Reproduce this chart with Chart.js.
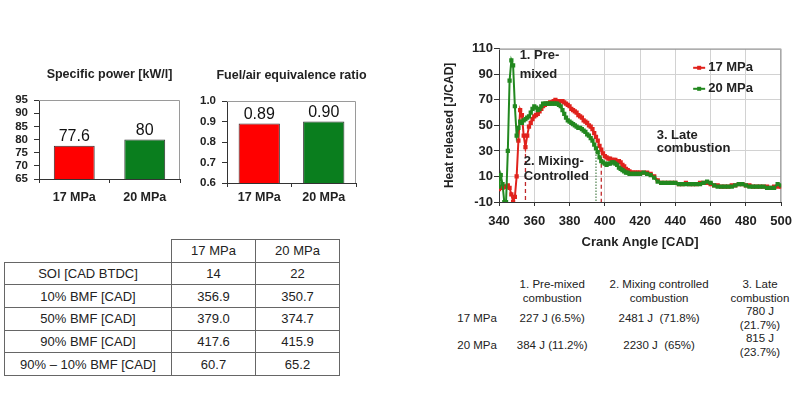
<!DOCTYPE html>
<html>
<head>
<meta charset="utf-8">
<script src="https://cdn.jsdelivr.net/npm/chart.js@4.4.1/dist/chart.umd.min.js"></script>
<style>
  body { margin: 0; width: 800px; height: 393px; overflow: hidden; background: #fff;
         font-family: "Liberation Sans", Arial, sans-serif; color: #222; position: relative; }
  canvas { position: absolute; }
  #bmfTable { position: absolute; left: 4px; top: 239px; border-collapse: collapse;
              table-layout: fixed; width: 335px; font-size: 13px; }
  #bmfTable td { border: 1px solid #666; text-align: center; height: 21.7px; padding: 0; }
  #bmfTable td.blank { border-top: none; border-left: none; }
  #energyTable { position: absolute; left: 448px; top: 278px; border-collapse: collapse;
                 table-layout: fixed; font-size: 11.5px; line-height: 13.5px; }
  #energyTable td { text-align: center; padding: 0; white-space: pre; vertical-align: middle; }
</style>
</head>
<body>
<canvas id="powerChart" width="195" height="165" style="left:0;top:55px"></canvas>
<canvas id="ratioChart" width="200" height="165" style="left:190px;top:55px"></canvas>
<canvas id="heatChart" width="370" height="215" style="left:430px;top:40px"></canvas>
<table id="bmfTable"></table>
<table id="energyTable"></table>
<script>
const FONT = '"Liberation Sans", Arial, sans-serif';

// bar charts
const barCategories = ['17 MPa', '20 MPa'];
const specificPower = [77.6, 80];
const specificPowerText = ['77.6', '80'];
const equivRatio = [0.89, 0.90];
const equivRatioText = ['0.89', '0.90'];
const barColors = ['#ff0000', '#0a7e1e'];

// BMF table
const bmfRows = ['SOI [CAD BTDC]', '10% BMF [CAD]', '50% BMF [CAD]', '90% BMF [CAD]', '90%  \u2013 10% BMF [CAD]'];
const bmf17 = ['14', '356.9', '379.0', '417.6', '60.7'];
const bmf20 = ['22', '350.7', '374.7', '415.9', '65.2'];

// heat release curves
const crankAngle = [
  340, 341, 342, 343, 344, 345, 346, 347, 348, 349, 350, 351, 352, 353, 354, 355, 356, 357, 358, 359,
  360, 361, 362, 363, 364, 365, 366, 367, 368, 369, 370, 371, 372, 373, 374, 375, 376, 377, 378, 379,
  380, 381, 382, 383, 384, 385, 386, 387, 388, 389, 390, 391, 392, 393, 394, 395, 396, 397, 398, 399,
  400, 401, 402, 403, 404, 405, 406, 407, 408, 409, 410, 411, 412, 413, 414, 415, 416, 417, 418, 419,
  420, 422, 424, 426, 428, 430, 432, 434, 436, 438, 440, 442, 444, 446, 448, 450, 452, 454, 456, 458,
  460, 462, 464, 466, 468, 470, 472, 474, 476, 478, 480, 482, 484, 486, 488, 490, 492, 494, 496, 498, 500
];
const heat17 = [
  0, 1, 1, 2, 2, 3, 1, -4, -10, -6, 10, 38, 62, 58, 42, 33, 42, 49, 52, 55,
  57, 58, 59, 61, 63, 65, 66, 67, 67, 68, 68, 69, 70, 69, 69, 69, 69, 68, 67, 66,
  65, 63, 62, 61, 60, 58, 57, 56, 54, 53, 52, 50, 49, 47, 44, 41, 38, 34, 31, 28,
  26, 25, 24, 24, 23, 23, 23, 22, 22, 21, 19, 18, 16, 15, 14, 13, 13, 13, 13, 13,
  13, 13, 13, 12, 10, 7, 5, 5, 5, 5, 5, 4, 4, 5, 4, 4, 4, 5, 5, 5,
  4, 3, 3, 2, 2, 2, 3, 3, 4, 4, 3, 3, 2, 2, 2, 2, 2, 1, 2, 2, 2
];
const heat20 = [
  2, 11, 4, -10, -10, 30, 85, 101, 97, 65, 42, 48, 53, 52, 54, 55, 56, 57, 60, 63,
  65, 64, 62, 63, 65, 67, 67, 67, 67, 67, 67, 67, 67, 67, 66, 65, 62, 59, 56, 54,
  53, 52, 51, 50, 49, 48, 48, 47, 46, 45, 43, 42, 40, 38, 35, 32, 29, 25, 22, 21,
  20, 19, 20, 20, 21, 21, 20, 19, 17, 16, 15, 14, 13, 13, 12, 12, 12, 12, 12, 12,
  12, 13, 12, 11, 9, 6, 5, 5, 5, 5, 5, 4, 4, 4, 4, 4, 4, 4, 5, 6,
  5, 3, 2, 2, 2, 2, 2, 3, 4, 4, 3, 2, 2, 2, 2, 2, 1, 1, 1, 4, 3
];
// phase boundaries (dashed drop lines)
const mark17 = [355, 398];
const mark17Top = [33, 31];
const mark20 = [395];
const mark20Top = [32];
const seriesNames = ['17 MPa', '20 MPa'];
const phaseNotes = [['1. Pre-', 'mixed'], ['2. Mixing-', 'Controlled'], ['3. Late', 'combustion']];

// energy table
const energyHead = ['', '1. Pre-mixed\ncombustion', '2. Mixing controlled\ncombustion', '3. Late\ncombustion'];
const energy17 = ['17 MPa', '227 J (6.5%)', '2481 J  (71.8%)', '780 J\n(21.7%)'];
const energy20 = ['20 MPa', '384 J (11.2%)', '2230 J  (65%)', '815 J\n(23.7%)'];

const RED = '#e0221c';
const GREEN = '#22881f';

// top/right frame of the plot box
const frame = {
  id: 'frame',
  beforeDatasetsDraw(chart) {
    const { ctx, chartArea: a } = chart;
    ctx.save();
    ctx.strokeStyle = '#9a9a9a';
    ctx.lineWidth = 1;
    ctx.beginPath();
    ctx.moveTo(a.left, a.top + 0.5);
    ctx.lineTo(a.right - 0.5, a.top + 0.5);
    ctx.lineTo(a.right - 0.5, a.bottom);
    ctx.stroke();
    ctx.restore();
  }
};

// value above each bar + title centred over the plot box
const barText = (title, texts) => ({
  id: 'barText',
  afterDatasetsDraw(chart) {
    const { ctx, chartArea: a } = chart;
    ctx.save();
    ctx.textAlign = 'center';
    ctx.fillStyle = '#222';
    ctx.textBaseline = 'middle';
    ctx.font = 'bold 12.5px ' + FONT;
    ctx.fillText(title, (a.left + a.right) / 2, a.top - 25);
    ctx.font = '16px ' + FONT;
    ctx.fillStyle = '#111';
    ctx.textBaseline = 'bottom';
    chart.getDatasetMeta(0).data.forEach((bar, i) => ctx.fillText(texts[i], bar.x, bar.y - 1));
    ctx.restore();
  }
});

function barChart(id, title, values, texts, yMin, yMax, step, s) {
  return new Chart(document.getElementById(id), {
    type: 'bar',
    data: {
      labels: barCategories,
      datasets: [{
        data: values,
        backgroundColor: barColors,
        borderColor: '#333',
        borderWidth: 1,
        barPercentage: s.barPct,
        categoryPercentage: 1
      }]
    },
    options: {
      responsive: false,
      animation: false,
      layout: { padding: { left: 0, right: s.right, top: s.top, bottom: s.bottom } },
      plugins: { legend: { display: false }, tooltip: { enabled: false } },
      scales: {
        x: {
          grid: { offset: true, drawOnChartArea: false, tickLength: 4, color: '#333' },
          border: { color: '#333' },
          ticks: { color: '#222', padding: s.xPad, font: { family: FONT, size: 12.5, weight: 'bold' } },
          afterFit: (sc) => { sc.height = 30; }
        },
        y: {
          min: yMin, max: yMax,
          grid: { drawOnChartArea: false, tickLength: 5, color: '#333' },
          border: { color: '#333' },
          ticks: { stepSize: step, autoSkip: false, color: '#222', padding: 6,
                   font: { family: FONT, size: 11.5, weight: 'bold' } },
          afterFit: (sc) => { sc.width = s.yWidth; }
        }
      }
    },
    plugins: [frame, barText(title, texts)]
  });
}

barChart('powerChart', 'Specific power [kW/l]', specificPower, specificPowerText, 65, 95, 5,
  { barPct: 0.58, right: 15, top: 45, bottom: 11, xPad: 7, yWidth: 39 });
barChart('ratioChart', 'Fuel/air equivalence ratio', equivRatio, equivRatioText, 0.6, 1, 0.1,
  { barPct: 0.64, right: 34, top: 46, bottom: 7, xPad: 3, yWidth: 37 });

// heat release chart
const curve = (ys) => crankAngle.map((x, i) => ({ x, y: ys[i] }));
const drop = (xs, tops) => xs.map((x, i) => [{ x, y: tops[i] }, { x, y: -10 }]);

const dropSets = [
  ...drop(mark17, mark17Top).map(d => ({ data: d, borderColor: '#c0282a', borderDash: [4, 3], order: 3 })),
  ...drop(mark20, mark20Top).map(d => ({ data: d, borderColor: '#5a8a5a', borderDash: [1.5, 1.5], order: 3 }))
].map(d => Object.assign(d, { borderWidth: 1.3, pointRadius: 0 }));

const notes = {
  id: 'notes',
  afterDatasetsDraw(chart) {
    const { ctx, scales: { x, y }, chartArea: a } = chart;
    const spots = [[351.7, 104.6, 90.3], [354.1, 21.4, 10.3], [429.4, 42.2, 31.9]];
    ctx.save();
    ctx.font = 'bold 13px ' + FONT;
    ctx.fillStyle = '#222';
    ctx.textBaseline = 'middle';
    phaseNotes.forEach((lines, i) => {
      const [cx, y1, y2] = spots[i];
      ctx.fillText(lines[0], x.getPixelForValue(cx), y.getPixelForValue(y1));
      ctx.fillText(lines[1], x.getPixelForValue(cx), y.getPixelForValue(y2));
    });
    // legend
    [RED, GREEN].forEach((c, i) => {
      const ly = a.top + 19 + i * 21;
      const lx = a.right - 88;
      ctx.strokeStyle = c;
      ctx.lineWidth = 2;
      ctx.beginPath();
      ctx.moveTo(lx, ly);
      ctx.lineTo(lx + 12, ly);
      ctx.stroke();
      ctx.fillStyle = c;
      ctx.fillRect(lx + 4, ly - 2, 4, 4);
      ctx.fillStyle = '#222';
      ctx.fillText(seriesNames[i], lx + 15, ly);
    });
    ctx.restore();
  }
};

new Chart(document.getElementById('heatChart'), {
  type: 'line',
  data: {
    datasets: [
      { label: seriesNames[0], data: curve(heat17), borderColor: RED, backgroundColor: RED, order: 1 },
      { label: seriesNames[1], data: curve(heat20), borderColor: GREEN, backgroundColor: GREEN, order: 0 }
    ].map(d => Object.assign(d, { borderWidth: 2, pointStyle: 'rect', pointRadius: 3, pointBorderWidth: 0, tension: 0 }))
     .concat(dropSets)
  },
  options: {
    responsive: false,
    animation: false,
    layout: { padding: { left: 0, right: 14, top: 8, bottom: 3 } },
    plugins: { legend: { display: false }, tooltip: { enabled: false } },
    scales: {
      x: {
        type: 'linear', min: 340, max: 500,
        grid: { color: '#d2d2d2', tickLength: 4, tickColor: '#333' },
        border: { color: '#333' },
        ticks: { stepSize: 20, color: '#222', padding: 8, font: { family: FONT, size: 13, weight: 'bold' } },
        title: { display: true, text: 'Crank Angle [CAD]', color: '#222', padding: { top: 0, bottom: 2.2 },
                 font: { family: FONT, size: 13, weight: 'bold' } },
        afterFit: (sc) => { sc.height = 50; }
      },
      y: {
        min: -10, max: 110,
        grid: { color: '#d2d2d2', tickLength: 5, tickColor: '#333' },
        border: { color: '#333' },
        ticks: { stepSize: 20, color: '#222', padding: 1, font: { family: FONT, size: 13, weight: 'bold' } },
        title: { display: true, text: 'Heat released [J/CAD]', color: '#222', padding: { top: 12.8, bottom: 0 },
                 font: { family: FONT, size: 12, weight: 'bold' } },
        afterFit: (sc) => { sc.width = 69; }
      }
    }
  },
  plugins: [frame, notes]
});

// tables
const bmfTable = document.getElementById('bmfTable');
bmfTable.innerHTML = '<colgroup><col style="width:167px"><col style="width:84px"><col style="width:84px"></colgroup>' +
  '<tr><td class="blank"></td><td>' + barCategories[0] + '</td><td>' + barCategories[1] + '</td></tr>' +
  bmfRows.map((r, i) => '<tr><td>' + r + '</td><td>' + bmf17[i] + '</td><td>' + bmf20[i] + '</td></tr>').join('');

const energyTable = document.getElementById('energyTable');
const eRow = (cells) => '<tr style="height:27px">' + cells.map(c => '<td>' + c.replace('\n', '<br>') + '</td>').join('') + '</tr>';
energyTable.innerHTML = '<colgroup><col style="width:60px"><col style="width:94px"><col style="width:124px"><col style="width:82px"></colgroup>' +
  eRow(energyHead) + eRow(energy17) + eRow(energy20);
</script>
</body>
</html>
